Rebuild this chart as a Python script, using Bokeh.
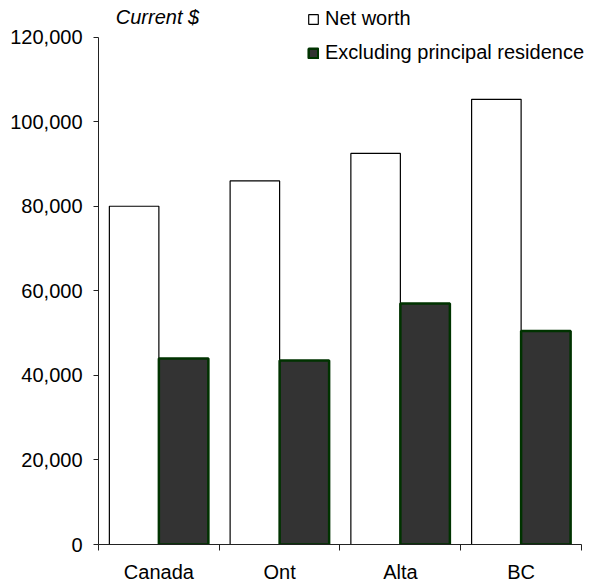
from bokeh.plotting import figure
from bokeh.models import (Range1d, FixedTicker, NumeralTickFormatter, Legend,
                          LegendItem, Label, ColumnDataSource)
from bokeh.transform import dodge
from bokeh.embed import file_html
from bokeh.resources import INLINE

categories = ["Canada", "Ont", "Alta", "BC"]
net_worth = [80000, 86000, 92500, 105300]
excl_residence = [44000, 43500, 57000, 50500]
y_ticks = [0, 20000, 40000, 60000, 80000, 100000, 120000]

FONT = "Liberation Sans, Arial, sans-serif"
FS = "20px"

xs = [i + 1 for i in range(len(categories))]
src = ColumnDataSource(dict(x=xs, net=net_worth, excl=excl_residence))

p = figure(width=595, height=585, output_backend="svg", toolbar_location=None,
           x_range=Range1d(0.5, 4.616), y_range=Range1d(0, 128664),
           min_border_left=98, min_border_right=0, min_border_top=0,
           min_border_bottom=40)
p.outline_line_color = None
p.xgrid.grid_line_color = None
p.ygrid.grid_line_color = None
p.background_fill_color = "white"
p.border_fill_color = "white"

r1 = p.vbar(x=dodge("x", -0.205), top="net", width=0.41, source=src,
            fill_color="white", line_color="black", line_width=1.2)
r2 = p.vbar(x=dodge("x", 0.205), top="excl", width=0.41, source=src,
            fill_color="#333333", line_color="#003300", line_width=2.5)

# y axis
ya = p.yaxis[0]
ya.ticker = FixedTicker(ticks=y_ticks, minor_ticks=[])
ya.formatter = NumeralTickFormatter(format="0,0")
ya.bounds = (0, 120000)
ya.major_tick_in = 0
ya.major_tick_out = 5
ya.minor_tick_in = 0
ya.minor_tick_out = 0
ya.major_label_standoff = 11
ya.major_label_text_font = FONT
ya.major_label_text_font_size = FS
ya.major_label_text_color = "black"
ya.axis_line_color = "#222222"
ya.major_tick_line_color = "#222222"

# x axis
xa = p.xaxis[0]
xa.ticker = FixedTicker(ticks=xs, minor_ticks=[x - 0.5 for x in xs] + [xs[-1] + 0.5])
xa.major_label_overrides = {x: c for x, c in zip(xs, categories)}
xa.bounds = (0.5, 4.5)
xa.major_tick_in = 0
xa.major_tick_out = 0
xa.minor_tick_in = 0
xa.minor_tick_out = 6
xa.major_label_standoff = 10
xa.major_label_text_font = FONT
xa.major_label_text_font_size = FS
xa.major_label_text_color = "black"
xa.axis_line_color = "#222222"
xa.minor_tick_line_color = "#222222"

p.add_layout(Label(x=0.643, y=124651, text="Current $", text_font=FONT,
                   text_font_size=FS, text_font_style="italic",
                   text_baseline="middle", text_color="black"))

legend = Legend(items=[LegendItem(label="Net worth", renderers=[r1]),
                       LegendItem(label="Excluding principal residence", renderers=[r2])],
                location=(209, 480), orientation="vertical",
                border_line_color=None, background_fill_alpha=0,
                padding=0, margin=0, spacing=11, glyph_width=12, glyph_height=12,
                label_height=20, label_standoff=6,
                label_text_font=FONT, label_text_font_size=FS,
                label_text_color="black")
p.add_layout(legend)

open("out.html", "w").write(file_html(p, INLINE))
